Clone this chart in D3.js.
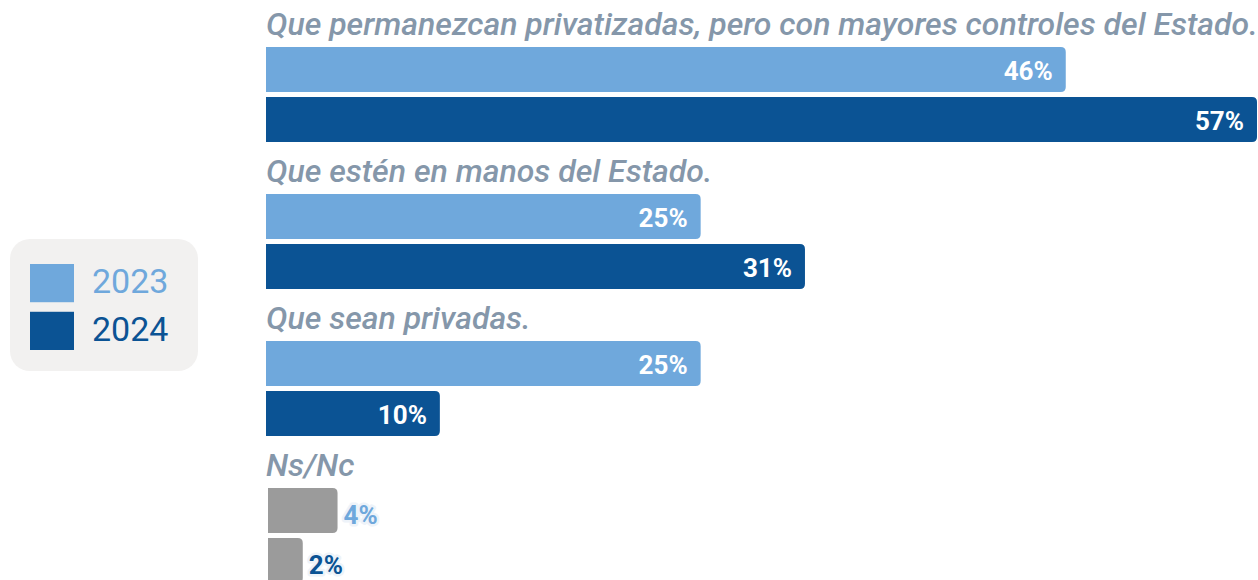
<!DOCTYPE html>
<html>
<head>
<meta charset="utf-8">
<script src="https://cdn.jsdelivr.net/npm/d3@7"></script>
<style>
  body { margin: 0; background: #fff; }
  svg { display: block; font-family: Roboto, "Noto Sans", sans-serif; }
</style>
</head>
<body>
<svg></svg>
<script>
 // data
 let categories = [
  'Que permanezcan privatizadas, pero con mayores controles del Estado.',
  'Que estén en manos del Estado.',
  'Que sean privadas.',
  'Ns/Nc'
 ];
 let seriesNames = ['2023', '2024'];
 let values2023 = [46, 25, 25, 4];
 let values2024 = [57, 31, 10, 2];
 let grayCategory = 'Ns/Nc';

 let width = 1258;
 let height = 580;
 let left = 266;
 let colors = { '2023': '#6fa8dc', '2024': '#0b5394' };

 let svg = d3.select('svg').attr('width', width).attr('height', height);

 let xScale = d3.scaleLinear().domain([0, 57]).range([left, 1257]);
 let groupScale = d3.scaleBand().domain(categories).range([0, 588]);
 let barScale = d3.scaleBand().domain(seriesNames).range([47, 142]).paddingInner(0.1);

 let rows = [];
 categories.forEach((c, i) => {
  rows.push({ cat: c, series: '2023', value: values2023[i] });
  rows.push({ cat: c, series: '2024', value: values2024[i] });
 });

 // bar path with rounded right corners only
 let barPath = (x0, y0, w, h, r) => {
  r = Math.min(r, w / 2);
  return `M${x0},${y0}H${x0 + w - r}Q${x0 + w},${y0} ${x0 + w},${y0 + r}` +
         `V${y0 + h - r}Q${x0 + w},${y0 + h} ${x0 + w - r},${y0 + h}H${x0}Z`;
 };

 // category labels
 svg.selectAll('text.cat')
  .data(categories)
  .enter()
  .append('text')
  .attr('class', 'cat')
  .attr('x', left)
  .attr('y', d => groupScale(d) + 35)
  .attr('font-size', 32)
  .attr('font-style', 'italic')
  .attr('font-weight', 500)
  .attr('fill', '#8597aa')
  .text(d => d);

 let bars = svg.selectAll('g.bar')
  .data(rows)
  .enter()
  .append('g')
  .attr('class', 'bar')
  .attr('transform', d => `translate(0, ${groupScale(d.cat) + barScale(d.series)})`);

 bars.append('path')
  .attr('d', d => {
   let x0 = d.cat === grayCategory ? left + 2 : left;
   return barPath(x0, 0, xScale(d.value) - left, barScale.bandwidth(), 5);
  })
  .attr('fill', d => d.cat === grayCategory ? '#9b9b9b' : colors[d.series]);

 // value labels: inside for the coloured bars, outside with a halo for Ns/Nc
 bars.append('text')
  .attr('x', d => d.cat === grayCategory ? xScale(d.value) + 8 : xScale(d.value) - 13)
  .attr('y', d => barScale.bandwidth() / 2 + (d.cat === grayCategory ? 4 : 1))
  .attr('dy', '0.36em')
  .attr('text-anchor', d => d.cat === grayCategory ? 'start' : 'end')
  .attr('font-size', 26)
  .attr('font-weight', 700)
  .attr('fill', d => d.cat === grayCategory ? colors[d.series] : '#fff')
  .attr('stroke', d => d.cat === grayCategory ? '#eef3f9' : 'none')
  .attr('stroke-width', 5)
  .attr('paint-order', 'stroke')
  .attr('stroke-linejoin', 'round')
  .text(d => d.value + '%');

 // legend
 let legend = svg.append('g').attr('class', 'legend');
 legend.append('rect')
  .attr('x', 10).attr('y', 239)
  .attr('width', 188).attr('height', 132)
  .attr('rx', 20)
  .attr('fill', '#f2f1f0');

 let legendScale = d3.scaleBand().domain(seriesNames).range([264, 350]).paddingInner(0.2);

 let items = legend.selectAll('g.item')
  .data(seriesNames)
  .enter()
  .append('g')
  .attr('class', 'item');

 items.append('rect')
  .attr('x', 30)
  .attr('y', d => legendScale(d))
  .attr('width', 44)
  .attr('height', legendScale.bandwidth())
  .attr('fill', d => colors[d]);

 items.append('text')
  .attr('x', 92)
  .attr('y', d => legendScale(d) + legendScale.bandwidth() / 2 - 2)
  .attr('dy', '0.36em')
  .attr('font-size', 34)
  .attr('fill', d => colors[d])
  .text(d => d);
</script>
</body>
</html>
